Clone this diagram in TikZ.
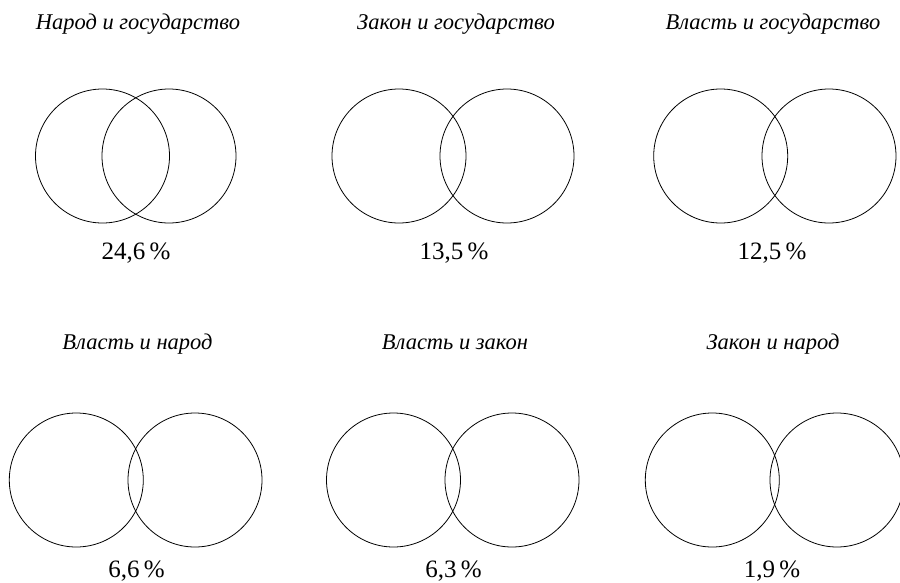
\documentclass[tikz,border=0pt]{standalone}
\usepackage{fontspec}
\setmainfont{Liberation Serif}
\usepackage{tikz}
\usetikzlibrary{positioning}

\begin{document}
\begin{tikzpicture}[
  x=1pt,y=-1pt,
  ring/.style={draw=black,line width=0.8pt,circle,minimum size=134pt,inner sep=0pt},
  pairtitle/.style={anchor=base,font=\fontsize{22.5}{26}\selectfont\itshape},
  share/.style={anchor=base,font=\fontsize{25}{28}\selectfont}
]
\useasboundingbox (0,0) rectangle (900,582);
\clip (0,0) rectangle (900,582);
% upper row
\node[pairtitle] (t1) at (138,29) {Народ и государство};
\node[ring] (a1) at (102.5,156) {};
\node[ring] (b1) at (169,156) {};
\node[share] (s1) at (136,259) {24,6\,\%};

\node[pairtitle] (t2) at (456,29) {Закон и государство};
\node[ring] (a2) at (399,156) {};
\node[ring] (b2) at (507,156) {};
\node[share] (s2) at (454,259) {13,5\,\%};

\node[pairtitle] (t3) at (773,29) {Власть и государство};
\node[ring] (a3) at (720.7,156) {};
\node[ring] (b3) at (829,156) {};
\node[share] (s3) at (772,259) {12,5\,\%};
% lower row
\node[pairtitle] (t4) at (137.5,349) {Власть и народ};
\node[ring] (a4) at (76.3,480) {};
\node[ring] (b4) at (195,480) {};
\node[share] (s4) at (136.5,577) {6,6\,\%};

\node[pairtitle] (t5) at (455,349) {Власть и закон};
\node[ring] (a5) at (393.5,480) {};
\node[ring] (b5) at (512,480) {};
\node[share] (s5) at (453.5,577) {6,3\,\%};

\node[pairtitle] (t6) at (773,349) {Закон и народ};
\node[ring] (a6) at (712.3,480) {};
\node[ring] (b6) at (837,480) {};
\node[share] (s6) at (772,577) {1,9\,\%};
\end{tikzpicture}
\end{document}
